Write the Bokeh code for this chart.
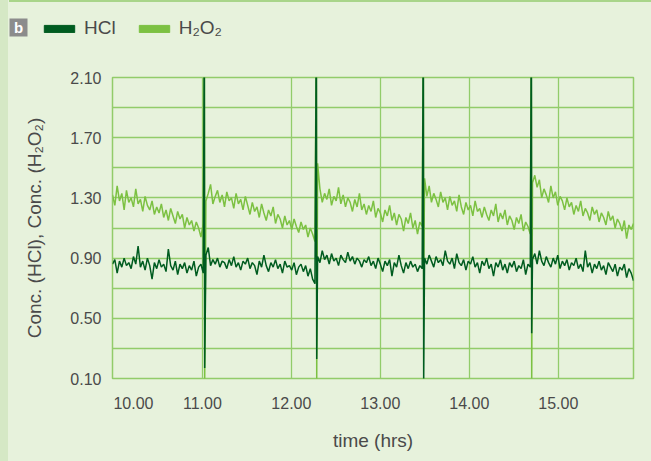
import numpy as np
from bokeh.plotting import figure
from bokeh.layouts import column
from bokeh.models import (Range1d, FixedTicker, CustomJSTickFormatter, NumeralTickFormatter,
                          Legend, LegendItem, Label, BoxAnnotation)
from bokeh.embed import file_html
from bokeh.resources import INLINE

# ---------------- data ----------------
segment_bounds = [(9.99, 11.01), (11.04, 12.265), (12.295, 13.47), (13.497, 14.685), (14.71, 15.845)]
spike_times = [11.022, 12.281, 13.483, 14.697]
hcl_spike_high = [2.5, 2.5, 2.5, 2.5]
hcl_spike_low = [0.17, 0.23, 0.06, 0.40]
h2o2_spike_high = [2.5, 2.5, 2.5, 2.5]
h2o2_spike_low = [0.08, 0.08, 0.70, 0.06]

hcl_seg1 = [0.86, 0.89, 0.80, 0.88, 0.84, 0.90, 0.85, 0.87, 0.83, 0.91,
            0.86, 0.98, 0.84, 0.88, 0.82, 0.90, 0.85, 0.76, 0.87, 0.83,
            0.89, 0.84, 0.86, 0.81, 0.96, 0.85, 0.82, 0.88, 0.79, 0.86,
            0.83, 0.87, 0.80, 0.85, 0.82, 0.88, 0.78, 0.84, 0.86, 0.80]
hcl_seg2 = [0.92, 0.97, 0.85, 0.89, 0.86, 0.90, 0.84, 0.88, 0.87, 0.83,
            0.89, 0.85, 0.91, 0.84, 0.87, 0.82, 0.88, 0.86, 0.90, 0.83,
            0.87, 0.85, 0.79, 0.88, 0.84, 0.92, 0.85, 0.81, 0.87, 0.84,
            0.89, 0.83, 0.86, 0.80, 0.88, 0.84, 0.85, 0.82, 0.87, 0.79,
            0.84, 0.86, 0.81, 0.85, 0.78, 0.83, 0.76, 0.73]
hcl_seg3 = [0.91, 0.87, 0.95, 0.89, 0.92, 0.86, 0.93, 0.88, 0.90, 0.85,
            0.92, 0.89, 0.87, 0.94, 0.88, 0.91, 0.86, 0.90, 0.88, 0.84,
            0.89, 0.87, 0.91, 0.85, 0.88, 0.83, 0.90, 0.86, 0.81, 0.88,
            0.85, 0.89, 0.78, 0.87, 0.84, 0.92, 0.85, 0.80, 0.87, 0.83,
            0.88, 0.84, 0.86, 0.81, 0.85, 0.83]
hcl_seg4 = [0.90, 0.86, 0.92, 0.88, 0.84, 0.91, 0.87, 0.89, 0.85, 0.95,
            0.88, 0.86, 0.90, 0.83, 0.93, 0.87, 0.85, 0.89, 0.82, 0.88,
            0.86, 0.91, 0.84, 0.87, 0.80, 0.88, 0.85, 0.90, 0.83, 0.86,
            0.78, 0.87, 0.84, 0.89, 0.82, 0.86, 0.80, 0.87, 0.84, 0.88,
            0.81, 0.85, 0.83, 0.89, 0.79, 0.86, 0.84]
hcl_seg5 = [0.89, 0.93, 0.86, 0.95, 0.88, 0.85, 0.91, 0.87, 0.84, 0.90,
            0.86, 0.92, 0.83, 0.88, 0.85, 0.89, 0.82, 0.87, 0.85, 0.90,
            0.83, 0.86, 0.81, 0.95, 0.84, 0.87, 0.80, 0.86, 0.83, 0.88,
            0.82, 0.85, 0.79, 0.87, 0.84, 0.81, 0.86, 0.78, 0.84, 0.82,
            0.86, 0.77, 0.83, 0.80, 0.75]

h2o2_seg1 = [1.32, 1.25, 1.38, 1.28, 1.33, 1.22, 1.35, 1.27, 1.30, 1.24,
             1.36, 1.26, 1.29, 1.21, 1.31, 1.25, 1.22, 1.28, 1.19, 1.24,
             1.20, 1.26, 1.17, 1.22, 1.15, 1.23, 1.18, 1.13, 1.21, 1.16,
             1.19, 1.10, 1.17, 1.12, 1.15, 1.08, 1.14, 1.10, 1.04, 1.13]
h2o2_seg2 = [1.28, 1.33, 1.39, 1.26, 1.31, 1.35, 1.27, 1.32, 1.24, 1.34,
             1.28, 1.30, 1.23, 1.33, 1.26, 1.29, 1.22, 1.31, 1.25, 1.19,
             1.27, 1.21, 1.24, 1.17, 1.26, 1.20, 1.15, 1.22, 1.18, 1.24,
             1.13, 1.19, 1.16, 1.10, 1.18, 1.12, 1.15, 1.09, 1.16, 1.11,
             1.07, 1.14, 1.09, 1.12, 1.04, 1.10, 1.06, 1.01]
h2o2_seg3 = [1.53, 1.36, 1.27, 1.33, 1.29, 1.36, 1.25, 1.31, 1.28, 1.37,
             1.26, 1.32, 1.24, 1.30, 1.27, 1.21, 1.29, 1.24, 1.33, 1.22,
             1.26, 1.19, 1.25, 1.21, 1.28, 1.17, 1.23, 1.20, 1.14, 1.22,
             1.18, 1.25, 1.15, 1.20, 1.12, 1.19, 1.16, 1.08, 1.17, 1.13,
             1.20, 1.10, 1.15, 1.06, 1.14, 1.11]
h2o2_seg4 = [1.43, 1.31, 1.38, 1.27, 1.33, 1.29, 1.24, 1.34, 1.27, 1.30,
             1.22, 1.31, 1.25, 1.28, 1.21, 1.32, 1.24, 1.19, 1.27, 1.22,
             1.25, 1.18, 1.28, 1.21, 1.23, 1.17, 1.24, 1.19, 1.15, 1.22,
             1.18, 1.26, 1.14, 1.20, 1.16, 1.22, 1.12, 1.18, 1.15, 1.09,
             1.17, 1.13, 1.19, 1.08, 1.14, 1.11, 1.06]
h2o2_seg5 = [1.40, 1.45, 1.37, 1.42, 1.30, 1.36, 1.32, 1.27, 1.38, 1.30,
             1.34, 1.25, 1.31, 1.28, 1.22, 1.30, 1.24, 1.27, 1.19, 1.25,
             1.21, 1.28, 1.18, 1.23, 1.20, 1.15, 1.24, 1.19, 1.22, 1.14,
             1.20, 1.17, 1.12, 1.21, 1.15, 1.18, 1.10, 1.16, 1.13, 1.08,
             1.15, 1.03, 1.12, 1.09, 1.13]

y_ticks = [0.10, 0.50, 0.90, 1.30, 1.70, 2.10]
y_grid = [0.10, 0.30, 0.50, 0.70, 0.90, 1.10, 1.30, 1.50, 1.70, 1.90, 2.10]
x_grid = [11, 12, 13, 14, 15]
x_ticks = [10.225, 11, 12, 13, 14, 15]
x_tick_labels = ["10.00", "11.00", "12.00", "13.00", "14.00", "15.00"]
series_names = ["HCl", "H\u2082O\u2082"]

BG = "#e7f2dc"
GRID = "#92cc6a"
HCL = "#005c20"
H2O2 = "#7cc142"
TXT = "#4a4a4a"
FONT = "Liberation Sans"
W, HEAD_H, MAIN_H = 635, 45, 400


def build(segs, highs, lows):
    ts, vs = [], []
    for i, seg in enumerate(segs):
        a, b = segment_bounds[i]
        ts += list(np.linspace(a, b, len(seg)))
        vs += list(seg)
        if i < len(spike_times):
            ts += [spike_times[i], spike_times[i] + 0.004]
            vs += [highs[i], lows[i]]
    return ts, vs


hcl_t, hcl_v = build([hcl_seg1, hcl_seg2, hcl_seg3, hcl_seg4, hcl_seg5], hcl_spike_high, hcl_spike_low)
h2_t, h2_v = build([h2o2_seg1, h2o2_seg2, h2o2_seg3, h2o2_seg4, h2o2_seg5], h2o2_spike_high, h2o2_spike_low)

# ---------------- header strip: panel letter + legend ----------------
head = figure(width=W, height=HEAD_H, output_backend="svg", toolbar_location=None,
              x_range=Range1d(0, W), y_range=Range1d(0, HEAD_H),
              x_axis_type=None, y_axis_type=None,
              min_border_left=0, min_border_right=0, min_border_top=0, min_border_bottom=0)
head.frame_align = False
head.background_fill_color = BG
head.border_fill_color = BG
head.outline_line_color = None
head.xgrid.visible = False
head.ygrid.visible = False

head.add_layout(BoxAnnotation(left=1, right=19, bottom=17, top=35,
                              fill_color="#8c8c8c", fill_alpha=1.0, line_color=None))
head.add_layout(Label(x=10, y=26, text="b", text_color="white", text_font=FONT,
                      text_font_style="bold", text_font_size="15px",
                      text_align="center", text_baseline="middle"))

# legend swatch renderers (placed off-screen, only their legend glyphs show)
r_hcl = head.quad(left=[-60], right=[-50], top=[-50], bottom=[-60], fill_color=HCL, line_color=HCL)
r_h2 = head.quad(left=[-60], right=[-50], top=[-50], bottom=[-60], fill_color=H2O2, line_color=H2O2)
legend = Legend(items=[LegendItem(label=series_names[0], renderers=[r_hcl]),
                       LegendItem(label=series_names[1], renderers=[r_h2])],
                location=(32, 14), orientation="horizontal",
                glyph_width=38, glyph_height=9, label_standoff=6, spacing=19,
                padding=0, margin=0, background_fill_alpha=0, border_line_alpha=0,
                label_text_font=FONT, label_text_font_size="19px", label_text_color=TXT)
head.add_layout(legend)

# ---------------- main chart ----------------
p = figure(width=W, height=MAIN_H, output_backend="svg", toolbar_location=None,
           x_range=Range1d(9.99, 15.845), y_range=Range1d(0.10, 2.10),
           min_border_left=104, min_border_right=10, min_border_top=69 - HEAD_H, min_border_bottom=75)
p.frame_align = False
p.background_fill_color = BG
p.border_fill_color = BG
p.outline_line_color = GRID
p.outline_line_width = 1.5

p.line(h2_t, h2_v, line_color=H2O2, line_width=1.5)
p.line(hcl_t, hcl_v, line_color=HCL, line_width=1.5)

p.xgrid.ticker = FixedTicker(ticks=x_grid)
p.ygrid.ticker = FixedTicker(ticks=y_grid)
for g in (p.xgrid, p.ygrid):
    g.grid_line_color = GRID
    g.grid_line_width = 1.3
    g.grid_line_alpha = 1.0

p.xaxis.ticker = FixedTicker(ticks=x_ticks)
p.xaxis.formatter = CustomJSTickFormatter(args=dict(tv=x_ticks, tl=x_tick_labels), code="""
    let best = 0;
    for (let i = 0; i < tv.length; i++) {
        if (Math.abs(tv[i] - tick) < Math.abs(tv[best] - tick)) best = i;
    }
    return tl[best];
""")
p.yaxis.ticker = FixedTicker(ticks=y_ticks)
p.yaxis.formatter = NumeralTickFormatter(format="0.00")
for ax in (p.xaxis, p.yaxis):
    ax.axis_line_color = None
    ax.major_tick_line_color = None
    ax.minor_tick_line_color = None
    ax.major_tick_out = 0
    ax.major_label_text_font = FONT
    ax.major_label_text_font_size = "16px"
    ax.major_label_text_color = TXT
    ax.axis_label_text_font = FONT
    ax.axis_label_text_font_size = "19px"
    ax.axis_label_text_font_style = "normal"
    ax.axis_label_text_color = TXT
p.xaxis.axis_label = "time (hrs)"
p.yaxis.axis_label = "Conc. (HCl), Conc. (H\u2082O\u2082)"
p.xaxis.major_label_standoff = 18
p.yaxis.major_label_standoff = 11
p.xaxis.axis_label_standoff = 18
p.yaxis.axis_label_standoff = 22

layout = column(head, p, spacing=0)

html = file_html(layout, INLINE)
css = ("<style>html{background:linear-gradient(#a9d58a,#a9d58a) 9px 0/100% 2px no-repeat,"
       "linear-gradient(to right,#d5e8c5 8px," + BG + " 8px);}body{margin:8px;background:transparent;}</style>")
html = html.replace("</head>", css + "</head>", 1)
open("out.html", "w").write(html)
